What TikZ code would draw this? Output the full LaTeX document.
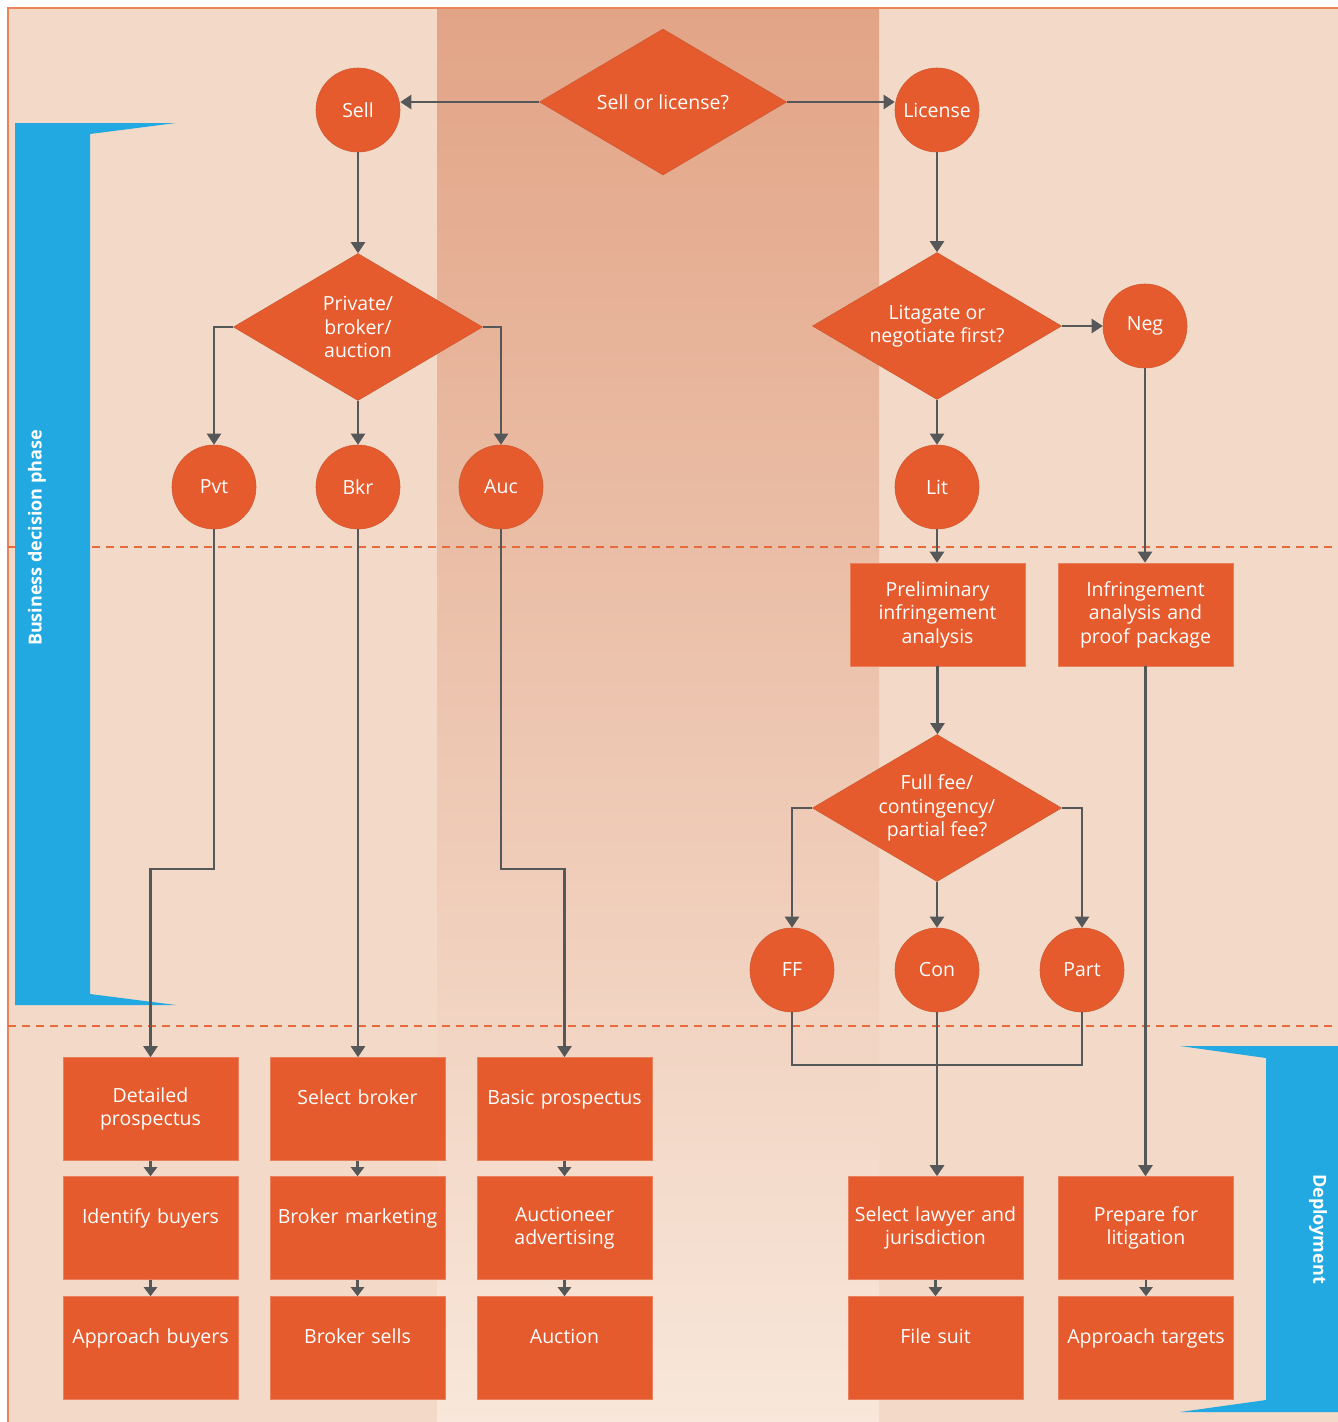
\documentclass[tikz,border=0pt]{standalone}
\usepackage{fontspec}
\setmainfont{Open Sans}
\usetikzlibrary{shapes.geometric,arrows.meta,calc}
\definecolor{bg}{HTML}{F3D9C7}
\definecolor{midtop}{HTML}{E2A486}
\definecolor{midbot}{HTML}{F8E7DA}
\definecolor{org}{HTML}{E55B2D}
\definecolor{orgedge}{HTML}{CF5A33}
\definecolor{boxedge}{HTML}{E9805B}
\definecolor{lnc}{HTML}{555759}
\definecolor{blu}{HTML}{23A9E1}
\definecolor{frm}{HTML}{EE8258}
\definecolor{dsh}{HTML}{E66A3C}
\begin{document}
\begin{tikzpicture}[x=1pt,y=-1pt,
  txt/.style={text=white, font=\fontsize{19.5}{23.5}\selectfont},
  circ/.style={circle, fill=org, draw=orgedge, line width=0.6pt, minimum size=84pt, inner sep=0pt, txt},
  dia/.style={diamond, aspect=1.7, fill=org, draw=orgedge, line width=0.6pt, minimum width=249pt, minimum height=147pt, inner sep=0pt, align=center, txt},
  box/.style={rectangle, fill=org, draw=boxedge, line width=0.6pt, minimum width=175pt, minimum height=103pt, inner sep=0pt, text width=172pt, align=center, txt},
  conn/.style={draw=lnc, line width=2.4pt, -{Triangle[width=14pt,length=11pt]}},
  sconn/.style={draw=lnc, line width=2.4pt, -{Triangle[width=13pt,length=9pt]}},
  bus/.style={draw=lnc, line width=1.8pt},
  phase/.style={dash pattern=on 8pt off 6pt, draw=dsh, line width=1.3pt},
  bracket/.style={fill=blu},
  brtext/.style={text=white, font=\fontsize{18}{22}\selectfont\bfseries}
]
\useasboundingbox (0,0) rectangle (1338,1422);
\fill[white] (0,0) rectangle (1338,1422);
\fill[bg] (8,8) rectangle (1338,1422);
\shade[top color=midtop, bottom color=midbot] (437,8) rectangle (879,1422);
\draw[frm, line width=2.2pt] (8,1422) -- (8,8) -- (1338,8);

% phase separators
\draw[phase] (8,547) -- (1338,547);
\draw[phase] (8,1026) -- (1338,1026);

% blue brackets
\fill[bracket] (15,123) -- (176,123) -- (90,134) -- (90,994) -- (176,1005) -- (15,1005) -- cycle;
\node[brtext, rotate=90] (bdp) at (37,538) {Business decision phase};
\fill[bracket] (1338,1046) -- (1180,1046) -- (1266,1058) -- (1266,1400) -- (1180,1412) -- (1338,1412) -- cycle;
\node[brtext, rotate=-90] (dep) at (1318,1229) {Deployment};

% coordinates for elbows
\coordinate (y869) at (0,869);
\coordinate (y1065) at (0,1065);

% top decision
\node[dia, minimum width=247pt, minimum height=146pt] (d0) at (663,102) {Sell or license?};
\node[circ] (sell) at (358,110) {Sell};
\node[circ] (license) at (937,110) {License};

% sell branch
\node[dia] (d1) at (358,327) {Private/\\broker/\\auction};
\node[circ] (pvt) at (214,487) {Pvt};
\node[circ] (bkr) at (358,487) {Bkr};
\node[circ] (auc) at (501,487) {Auc};

% license branch
\node[dia] (d2) at (937,326) {Litagate or\\negotiate first?};
\node[circ] (neg) at (1145,326) {Neg};
\node[circ] (lit) at (937,487) {Lit};
\node[box] (prelim) at (937.5,614.5) {Preliminary\\infringement\\analysis};
\node[box] (infr) at (1145.5,614.5) {Infringement\\analysis and\\proof package};
\node[dia] (d3) at (937,808) {Full fee/\\contingency/\\partial fee?};
\node[circ] (ff) at (792,970) {FF};
\node[circ] (con) at (937,970) {Con};
\node[circ] (part) at (1082,970) {Part};

% deployment boxes
\node[box] (b11) at (150.5,1109) {Detailed\\prospectus};
\node[box] (b21) at (150.5,1228) {Identify buyers\\\mbox{}};
\node[box] (b31) at (150.5,1348) {Approach buyers\\\mbox{}};
\node[box] (b12) at (357.5,1109) {Select broker\\\mbox{}};
\node[box] (b22) at (357.5,1228) {Broker marketing\\\mbox{}};
\node[box] (b32) at (357.5,1348) {Broker sells\\\mbox{}};
\node[box] (b13) at (564.5,1109) {Basic prospectus\\\mbox{}};
\node[box] (b23) at (564.5,1228) {Auctioneer\\advertising};
\node[box] (b33) at (564.5,1348) {Auction\\\mbox{}};
\node[box] (b24) at (935.5,1228) {Select lawyer and\\jurisdiction};
\node[box] (b34) at (935.5,1348) {File suit\\\mbox{}};
\node[box] (b25) at (1146,1228) {Prepare for\\litigation};
\node[box] (b35) at (1146,1348) {Approach targets\\\mbox{}};

% connectors: top
\draw[conn] (d0.west) -- (d0.west -| sell.east);
\draw[conn] (d0.east) -- (d0.east -| license.west);
\draw[conn] (sell.south) -- (d1.north);
\draw[conn] (license.south) -- (d2.north);

% sell branch connectors
\draw[conn] (d1.west) -| (pvt.north);
\draw[conn] (d1.south) -- (bkr.north);
\draw[conn] (d1.east) -| (auc.north);
\draw[conn] (pvt.south) -- (pvt.south |- y869) -| (b11.north);
\draw[conn] (bkr.south) -- (bkr.south |- b12.north);
\draw[conn] (auc.south) -- (auc.south |- y869) -| (b13.north);

% license branch connectors
\draw[conn] (d2.east) -- (d2.east -| neg.west);
\draw[conn] (d2.south) -- (lit.north);
\draw[conn] (lit.south) -- (lit.south |- prelim.north);
\draw[conn] (neg.south) -- (neg.south |- infr.north);
\draw[conn] (prelim.south) -- (prelim.south |- d3.north);
\draw[conn] (d3.west) -| (ff.north);
\draw[conn] (d3.south) -- (con.north);
\draw[conn] (d3.east) -| (part.north);
\draw[bus] (ff.south) -- (ff.south |- y1065) -- (part.south |- y1065) -- (part.south);
\draw[conn, line width=2.8pt] (con.south) -- (con.south |- b24.north);
\draw[conn] (infr.south) -- (infr.south |- b25.north);

% box chains
\draw[sconn] (b11.south) -- (b21.north);
\draw[sconn] (b21.south) -- (b31.north);
\draw[sconn] (b12.south) -- (b22.north);
\draw[sconn] (b22.south) -- (b32.north);
\draw[sconn] (b13.south) -- (b23.north);
\draw[sconn] (b23.south) -- (b33.north);
\draw[sconn] (b24.south) -- (b34.north);
\draw[sconn] (b25.south) -- (b35.north);
\end{tikzpicture}
\end{document}
